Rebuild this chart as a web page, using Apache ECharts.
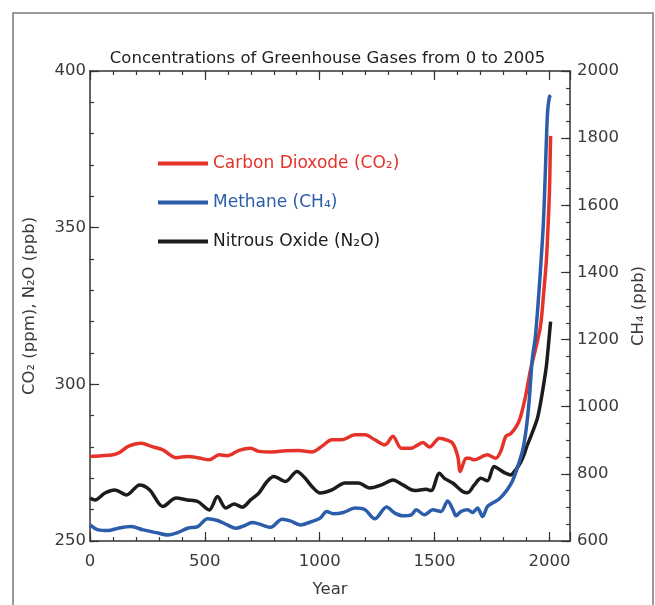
<!DOCTYPE html>
<html>
<head>
<meta charset="utf-8">
<script src="https://cdn.jsdelivr.net/npm/echarts@6/dist/echarts.min.js"></script>
<style>
html,body{margin:0;padding:0;background:#fff;}
#chart{width:655px;height:605px;}
</style>
</head>
<body>
<div id="chart"></div>
<script>
const titleText = 'Concentrations of Greenhouse Gases from 0 to 2005';
const seriesNames = ['Carbon Dioxode (CO\u2082)', 'Methane (CH\u2084)', 'Nitrous Oxide (N\u2082O)'];

const co2Years = [0,50,100,130,166,224,267,317,375,425,469,519,562,598,649,699,735,793,851,908,966,1009,1053,1096,1154,1197,1240,1284,1319,1355,1399,1428,1449,1478,1521,1557,1579,1601,1612,1637,1651,1673,1730,1766,1788,1810,1831,1860,1875,1896,1918,1939,1961,1975,1987,1994,2000,2003,2005];
const co2Values = [277.0,277.2,277.5,278.3,280.2,281.2,280.2,279.1,276.6,277.0,276.6,275.9,277.5,277.2,278.9,279.6,278.6,278.4,278.8,278.9,278.4,280.2,282.3,282.3,283.9,283.9,282.3,280.7,283.4,279.6,279.6,280.7,281.4,280.0,282.8,282.1,281.2,277.0,272.2,276.4,276.4,275.9,277.5,276.4,278.6,283.4,284.2,287.1,289.8,296.2,304.7,311.1,318.5,329.2,339.9,350.5,361.2,371.8,379.3];

const ch4Years = [0,36,79,123,180,231,288,339,382,425,469,512,555,598,634,670,706,735,786,836,872,915,966,1002,1030,1059,1103,1154,1197,1240,1291,1327,1362,1399,1420,1456,1492,1528,1557,1579,1593,1615,1644,1665,1687,1709,1730,1752,1781,1810,1838,1867,1885,1900,1912,1925,1939,1954,1964,1973,1979,1984,1989,1993,2000,2005];
const ch4Values = [648,633,631,638,643,633,625,618,625,638,643,666,661,648,638,645,655,651,641,665,660,648,658,668,688,681,685,698,693,666,701,683,675,678,693,678,693,688,719,695,675,688,693,685,698,673,703,713,725,747,777,832,875,940,1020,1140,1210,1339,1439,1538,1638,1737,1837,1887,1922,1928];

const n2oYears = [0,22,65,108,159,216,260,317,375,425,469,519,555,591,627,663,699,735,771,800,851,901,937,966,1002,1053,1110,1168,1218,1269,1319,1362,1413,1463,1485,1521,1543,1579,1622,1644,1673,1702,1730,1759,1781,1802,1831,1853,1874,1889,1903,1925,1947,1960,1975,1987,1995,2005];
const n2oValues = [263.7,263.1,265.3,266.3,264.7,267.9,266.3,261.0,263.7,263.1,262.6,259.9,264.2,260.5,261.8,260.8,263.1,265.3,269.0,270.6,269.0,272.2,270.0,267.4,265.3,266.3,268.5,268.5,266.9,267.9,269.5,267.9,266.1,266.5,266.1,271.6,270.0,268.5,265.8,265.4,267.9,270.0,269.2,273.8,272.9,271.9,271.1,272.7,275.0,277.5,280.5,284.5,289.0,293.5,300.0,306.0,312.0,320.0];

const leftTicks = {min:250, max:400, interval:50, minor:10};
const rightTicks = {min:600, max:2000, interval:200, minor:50};
const yearTicks = {min:0, max:2090, interval:500, minor:100};

function pairs(xs, ys){ return xs.map((x,i)=>[x, ys[i]]); }

const FONT = 'DejaVu Sans';
const AX = '#333';
const TXT = '#3a3a3a';
const FS = 16.5;
const colors = ['#e5332a', '#2b5dab', '#1c1c1c'];

const chart = echarts.init(document.getElementById('chart'), null, {renderer:'canvas'});

function xAx(pos, interval, len, showLine, showLabel){
  return {
    type:'value', position:pos, min:yearTicks.min, max:yearTicks.max, interval:interval,
    axisLine:{show:showLine, onZero:false, lineStyle:{color:AX, width:1.5}},
    axisTick:{show:true, inside:true, length:len, lineStyle:{color:AX, width:1.2}},
    splitLine:{show:false},
    axisLabel:{show:showLabel, margin:12, color:TXT, fontFamily:FONT, fontSize:FS,
      formatter:function(v){ return (v % yearTicks.interval === 0) ? String(v) : ''; }, showMaxLabel:false},
    name: (showLabel ? 'Year' : ''), nameLocation:'middle', nameGap:40,
    nameTextStyle:{color:TXT, fontFamily:FONT, fontSize:FS}
  };
}

function yAx(pos, t, interval, len, showLine, showLabel, name, gap, margin){
  return {
    type:'value', position:pos, min:t.min, max:t.max, interval:interval,
    axisLine:{show:showLine, onZero:false, lineStyle:{color:AX, width:1.5}},
    axisTick:{show:true, inside:true, length:len, lineStyle:{color:AX, width:1.2}},
    splitLine:{show:false},
    axisLabel:{show:showLabel, margin:margin, color:TXT, fontFamily:FONT, fontSize:FS,
      formatter:function(v){ return String(v); }},
    name:name, nameLocation:'middle', nameGap:gap, nameRotate:90,
    nameTextStyle:{color:TXT, fontFamily:FONT, fontSize:FS}
  };
}

const option = {
  backgroundColor:'#fff',
  animation:false,
  title:{text:titleText, left:'center', top:45,
    textStyle:{fontFamily:FONT, fontSize:16.5, fontWeight:'normal', color:'#222'}},
  graphic:[{type:'rect', shape:{x:13, y:13, width:640, height:610},
    style:{fill:'none', stroke:'#7a7a7a', lineWidth:1.5}, silent:true}],
  legend:{orient:'vertical', left:158, top:155, padding:0, itemWidth:50, itemHeight:4, itemGap:22,
    icon:'rect',
    textStyle:{fontFamily:FONT, fontSize:17},
    data:[
      {name:seriesNames[0], textStyle:{color:colors[0]}},
      {name:seriesNames[1], textStyle:{color:colors[1]}},
      {name:seriesNames[2], textStyle:{color:colors[2]}}
    ]},
  grid:{left:90, right:82, top:71, bottom:64},
  xAxis:[
    xAx('bottom', yearTicks.minor, 4, true, true),
    xAx('bottom', yearTicks.interval, 9, false, false),
    xAx('top', yearTicks.minor, 4, true, false),
    xAx('top', yearTicks.interval, 9, false, false)
  ],
  yAxis:[
    yAx('left', leftTicks, leftTicks.interval, 9, true, true, 'CO\u2082 (ppm), N\u2082O (ppb)', 52, 4),
    yAx('right', rightTicks, rightTicks.interval, 9, true, true, 'CH\u2084 (ppb)', 51, 7),
    yAx('left', leftTicks, leftTicks.minor, 4, false, false, '', 0, 4),
    yAx('right', rightTicks, rightTicks.minor, 4, false, false, '', 0, 7)
  ],
  series:[
    {name:seriesNames[2], type:'line', xAxisIndex:0, yAxisIndex:0, data:pairs(n2oYears,n2oValues),
      showSymbol:false, symbol:'none', smooth:0.3, lineStyle:{color:colors[2], width:3.5}, itemStyle:{color:colors[2]}, z:2},
    {name:seriesNames[0], type:'line', xAxisIndex:0, yAxisIndex:0, data:pairs(co2Years,co2Values),
      showSymbol:false, symbol:'none', smooth:0.3, lineStyle:{color:colors[0], width:3.5}, itemStyle:{color:colors[0]}, z:3},
    {name:seriesNames[1], type:'line', xAxisIndex:0, yAxisIndex:1, data:pairs(ch4Years,ch4Values),
      showSymbol:false, symbol:'none', smooth:0.3, lineStyle:{color:colors[1], width:3.5}, itemStyle:{color:colors[1]}, z:4}
  ]
};
chart.setOption(option);
</script>
</body>
</html>
